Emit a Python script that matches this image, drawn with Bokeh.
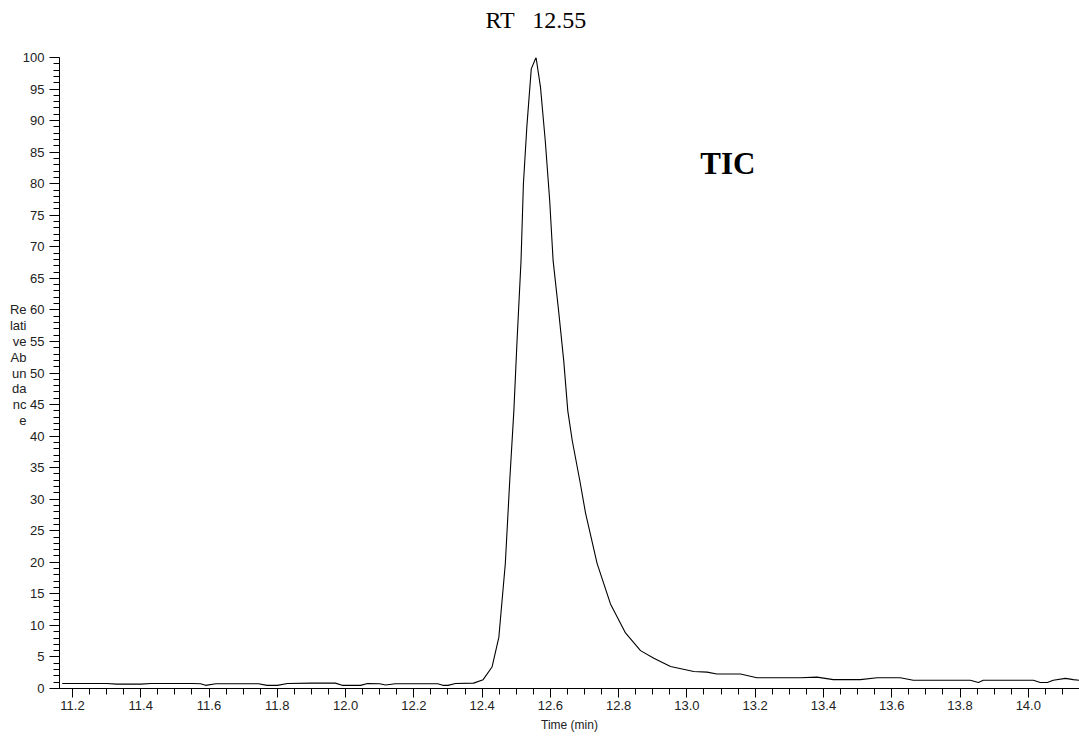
from bokeh.plotting import figure
from bokeh.models import (Range1d, SingleIntervalTicker, FixedTicker, PrintfTickFormatter,
                          LinearAxis, Label)
from bokeh.embed import file_html
from bokeh.resources import INLINE

# Total ion chromatogram: retention time (min) vs relative abundance (%)
time_min = [11.17, 11.30, 11.33, 11.40, 11.43, 11.55, 11.575, 11.59, 11.62, 11.745,
            11.77, 11.80, 11.83, 11.90, 11.97, 11.99, 12.044, 12.064, 12.10, 12.117,
            12.146, 12.27, 12.285, 12.30, 12.322, 12.375, 12.403, 12.429, 12.449, 12.468,
            12.481, 12.493, 12.502, 12.514, 12.521, 12.531, 12.544, 12.558, 12.571, 12.585,
            12.598, 12.608, 12.624, 12.639, 12.651, 12.664, 12.686, 12.703, 12.737, 12.776,
            12.820, 12.864, 12.903, 12.952, 13.02, 13.059, 13.088, 13.157, 13.205, 13.332,
            13.381, 13.429, 13.508, 13.557, 13.625, 13.663, 13.83, 13.854, 13.868, 14.015,
            14.035, 14.056, 14.073, 14.109, 14.132, 14.15]
rel_abundance = [0.8, 0.8, 0.7, 0.7, 0.8, 0.8, 0.75, 0.5, 0.75, 0.75,
                 0.5, 0.5, 0.8, 0.85, 0.85, 0.5, 0.5, 0.8, 0.75, 0.55,
                 0.75, 0.75, 0.5, 0.5, 0.8, 0.85, 1.4, 3.4, 8.1, 19.8,
                 33.0, 44.0, 54.7, 67.8, 80.0, 89.0, 98.2, 100.0, 95.3, 86.8,
                 77.3, 67.8, 59.9, 52.0, 44.0, 39.3, 33.0, 27.8, 19.8, 13.4,
                 8.8, 6.0, 4.8, 3.5, 2.7, 2.6, 2.3, 2.3, 1.7, 1.7,
                 1.8, 1.4, 1.4, 1.7, 1.7, 1.3, 1.3, 0.95, 1.3, 1.3,
                 0.95, 0.95, 1.3, 1.6, 1.4, 1.3]

# non-breaking spaces keep the wide gap of the retention-time note
peak_label = "RT \u00a0\u00a012.55"
trace_label = "TIC"
x_title = "Time (min)"
# the y title is printed in short pieces, one every half tick step from 60 down
y_title_parts = ["Re", "lati", "ve", "Ab", "un", "da", "nc", "e"]
y_title_rows = [60, 57.5, 55, 52.5, 50, 47.5, 45, 42.5]

SANS = "Liberation Sans"
SERIF = "Liberation Serif"
TEXT_GREY = "#222222"

X_START, X_END = 11.162, 14.15
Y_START, Y_END = 0, 100

p = figure(width=1079, height=740, output_backend="svg", toolbar_location=None,
           x_range=Range1d(X_START, X_END), y_range=Range1d(Y_START, Y_END),
           min_border_left=59, min_border_right=0, min_border_top=57, min_border_bottom=52)
p.outline_line_color = None
p.grid.visible = False
p.background_fill_color = "white"
p.border_fill_color = "white"

p.line(time_min, rel_abundance, line_color="black", line_width=1.1)

# x axis
xa = p.xaxis[0]
xa.ticker = SingleIntervalTicker(interval=0.2, num_minor_ticks=4)
xa.formatter = PrintfTickFormatter(format="%.1f")
xa.axis_label = x_title
ya = p.yaxis[0]
ya.ticker = SingleIntervalTicker(interval=5, num_minor_ticks=5)
ya.formatter = PrintfTickFormatter(format="%d")
for ax in (xa, ya):
    ax.axis_line_color = "black"
    ax.major_tick_line_color = "black"
    ax.minor_tick_line_color = "black"
    ax.major_label_text_font = SANS
    ax.major_label_text_color = TEXT_GREY
    ax.major_label_text_font_size = "13px"
    ax.major_tick_in = 0
    ax.minor_tick_in = 0
xa.major_tick_out = 9
xa.minor_tick_out = 6
xa.major_label_standoff = 3
xa.axis_label_text_font = SANS
xa.axis_label_text_font_style = "normal"
xa.axis_label_text_font_size = "12px"
xa.axis_label_text_color = TEXT_GREY
xa.axis_label_standoff = 5
ya.major_tick_out = 10
ya.minor_tick_out = 6
ya.major_label_standoff = 5


def text_axis(ticks, texts, font, size, style, color, standoff):
    overrides = {}
    for t, s in zip(ticks, texts):
        overrides[t] = s
        overrides[("%g" % t)] = s
    ax = LinearAxis(ticker=FixedTicker(ticks=list(ticks), minor_ticks=[]),
                    major_label_overrides=overrides)
    ax.axis_line_color = None
    ax.major_tick_line_color = None
    ax.minor_tick_line_color = None
    ax.major_tick_out = 0
    ax.minor_tick_out = 0
    ax.major_label_text_font = font
    ax.major_label_text_font_size = size
    ax.major_label_text_font_style = style
    ax.major_label_text_color = color
    ax.major_label_standoff = standoff
    return ax


# stacked y title, outside the numeric y labels
y_title_axis = text_axis(y_title_rows, y_title_parts, SANS, "13px", "normal", TEXT_GREY, -7)
p.add_layout(y_title_axis, "left")

# retention-time note over the apex of the peak
apex = rel_abundance.index(max(rel_abundance))
rt_axis = text_axis([time_min[apex]], [peak_label], SERIF, "24px", "normal", "black", 25)
p.add_layout(rt_axis, "above")

p.add_layout(Label(x=13.12, y=83.2, text=trace_label,
                   text_font=SERIF, text_font_size="31px", text_font_style="bold",
                   text_color="black", text_align="center", text_baseline="alphabetic"))

open("out.html", "w").write(file_html(p, INLINE))
